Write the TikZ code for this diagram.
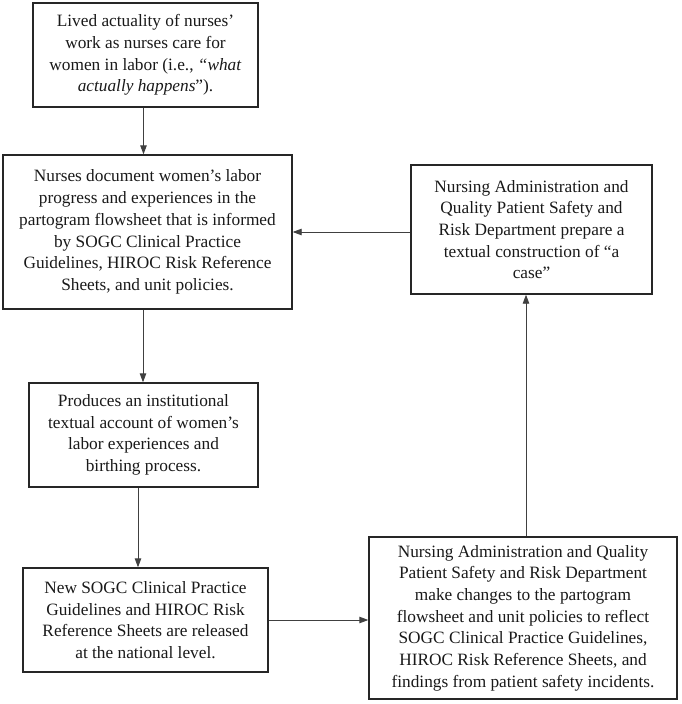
\documentclass[tikz,border=0pt]{standalone}
\usepackage{fontspec}
\setmainfont{Liberation Serif}
\usetikzlibrary{arrows.meta,calc}
\begin{document}
\begin{tikzpicture}[x=1pt,y=-1pt,
  box/.style={draw=black!85,line width=1.4pt,rectangle,align=center,inner sep=0pt,
    font=\fontsize{17.3}{21.7}\selectfont,text=black!90},
  arr/.style={draw=black!75,line width=0.9pt,-{Triangle[length=9pt,width=6.5pt]}}]
\useasboundingbox (0,0) rectangle (681,704);
\node[box,minimum width=225,minimum height=104] (b1) at (145.5,55)
  {Lived actuality of nurses'\\work as nurses care for\\women in labor (i.e., \textit{“what}\\\textit{actually happens}”).};
\node[box,minimum width=289,minimum height=154] (b2) at (147.5,232)
  {Nurses document women's labor\\progress and experiences in the\\partogram flowsheet that is informed\\by SOGC Clinical Practice\\Guidelines, HIROC Risk Reference\\Sheets, and unit policies.};
\node[box,minimum width=241,minimum height=129] (b3) at (531.5,229.5)
  {Nursing Administration and\\Quality Patient Safety and\\Risk Department prepare a\\textual construction of “a\\case”};
\node[box,minimum width=229,minimum height=104] (b4) at (143.5,435)
  {Produces an institutional\\textual account of women's\\labor experiences and\\birthing process.};
\node[box,minimum width=245,minimum height=104] (b5) at (145.5,620)
  {New SOGC Clinical Practice\\Guidelines and HIROC Risk\\Reference Sheets are released\\at the national level.};
\node[box,minimum width=308,minimum height=162] (b6) at (523,618)
  {Nursing Administration and Quality\\Patient Safety and Risk Department\\make changes to the partogram\\flowsheet and unit policies to reflect\\SOGC Clinical Practice Guidelines,\\HIROC Risk Reference Sheets, and\\findings from patient safety incidents.};
\draw[arr] ([xshift=-2pt]b1.south) -- ([xshift=-2pt]b1.south |- b2.north);
\draw[arr] ([xshift=-4.5pt]b2.south) -- ([xshift=-4.5pt]b2.south |- b4.north);
\draw[arr] ([xshift=-5.5pt]b4.south) -- ([xshift=-5.5pt]b4.south |- b5.north);
\draw[arr] (b5.east) -- (b5.east -| b6.west);
\draw[arr] ([xshift=3pt]b6.north) -- ([xshift=3pt]b6.north |- b3.south);
\draw[arr] ([yshift=-2.5pt]b3.west) -- ([yshift=-2.5pt]b3.west -| b2.east);
\end{tikzpicture}
\end{document}
